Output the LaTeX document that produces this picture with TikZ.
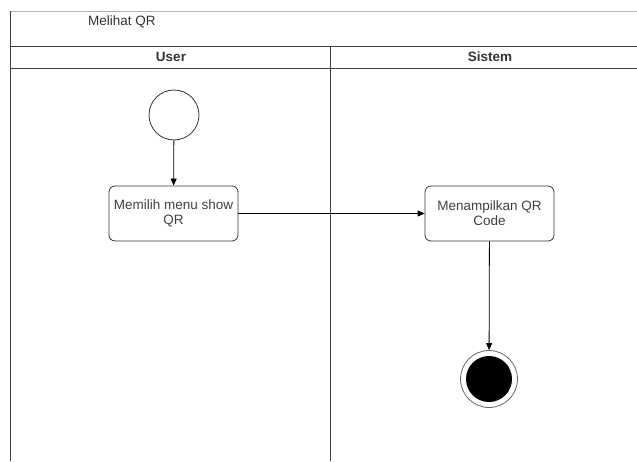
\documentclass[tikz,border=0pt]{standalone}
\usepackage{fontspec}
\setmainfont{Liberation Sans}
\usetikzlibrary{arrows.meta}
\begin{document}
\begin{tikzpicture}[x=1pt,y=-1pt,
  lane/.style={draw=black!75, line width=0.8pt},
  act/.style={draw=black!80, line width=0.8pt, rounded corners=6pt, minimum width=129pt, minimum height=55pt, align=center, font=\fontsize{13.5}{15}\selectfont, text=black!75, fill=white},
  flow/.style={draw=black, line width=0.8pt, -{Triangle[length=7pt,width=6pt]}},
  hdr/.style={font=\bfseries\fontsize{13.5}{15}\selectfont, text=black!80}]
\useasboundingbox (0,0) rectangle (637,461);
% pool frame
\draw[draw=black!30, line width=0.8pt] (10,11) -- (637,11);
\draw[lane] (10,11) -- (10,461);
\node[anchor=west, inner sep=0pt, font=\fontsize{13.5}{15}\selectfont, text=black!80] (title) at (88,22) {Melihat QR};
% lane headers
\draw[lane] (10,46) -- (637,46);
\draw[lane] (10,68) -- (637,68);
\draw[lane] (330,46) -- (330,461);
\node[hdr] (huser) at (171,57) {User};
\node[hdr] (hsis) at (490,57) {Sistem};
% nodes
\node[circle, draw=black!80, line width=0.8pt, minimum size=50pt, inner sep=0pt] (start) at (174,115) {};
\node[act] (a1) at (173.5,213.5) {Memilih menu show\\QR};
\node[act] (a2) at (489.5,213.5) {Menampilkan QR\\Code};
\node[circle, draw=black!60, line width=0.8pt, minimum size=57pt, inner sep=0pt] (end) at (489,379) {};
\node[circle, fill=black, minimum size=46pt, inner sep=0pt] (endin) at (end) {};
% connectors
\draw[flow] (start) -- (a1);
\draw[flow] (a1) -- (a2);
\draw[flow] (a2) -- (end);
\end{tikzpicture}
\end{document}
